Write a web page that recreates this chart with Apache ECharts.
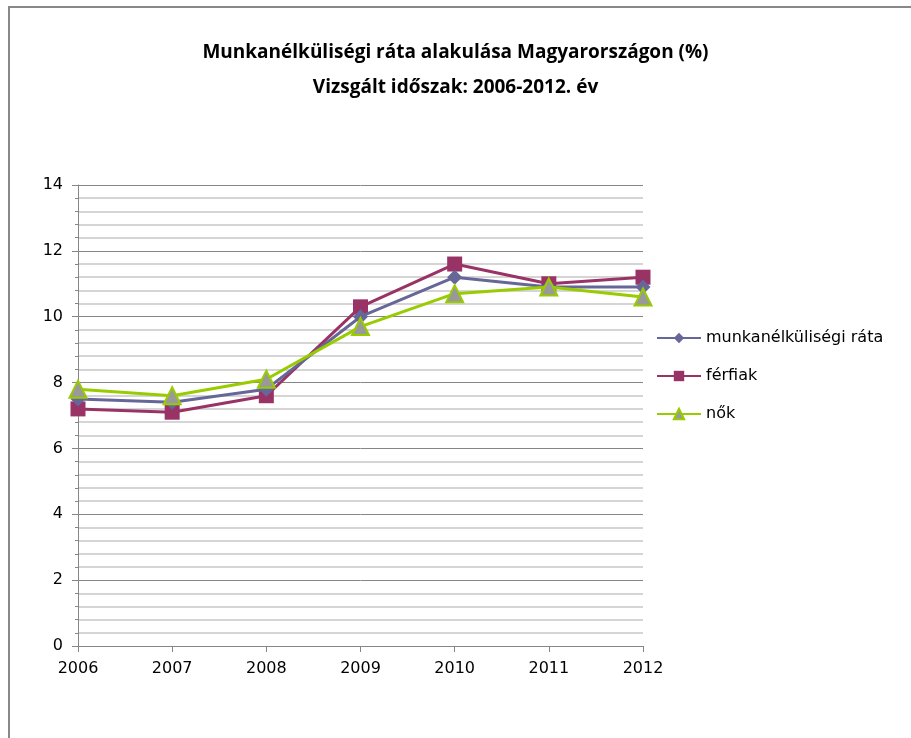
<!DOCTYPE html>
<html><head><meta charset="utf-8">
<script src="https://cdn.jsdelivr.net/npm/echarts@6/dist/echarts.min.js"></script>
<style>html,body{margin:0;padding:0;background:#fff}#c{width:911px;height:738px}</style>
</head><body><div id="c"></div>
<script>
const years = ['2006','2007','2008','2009','2010','2011','2012'];
const rata = [7.5, 7.4, 7.8, 10.0, 11.2, 10.9, 10.9];
const ferfiak = [7.2, 7.1, 7.6, 10.3, 11.6, 11.0, 11.2];
const nok = [7.8, 7.6, 8.1, 9.7, 10.7, 10.9, 10.6];
const names = ['munkanélküliségi ráta', 'férfiak', 'nők'];
const titleLines = ['Munkanélküliségi ráta alakulása Magyarországon (%)', 'Vizsgált időszak: 2006-2012. év'];

const TFONT = '"Open Sans", "Noto Sans", sans-serif';
const FONT = '"DejaVu Sans", "Open Sans", sans-serif';
const chart = echarts.init(document.getElementById('c'));
chart.setOption({
  animation: false,
  backgroundColor: '#fff',
  title: {
    text: titleLines.join('\n'),
    left: 'center', top: 30,
    textStyle: {fontFamily: TFONT, fontWeight: 'bold', fontSize: 19, color: '#000', lineHeight: 35}
  },
  graphic: [{type: 'rect', shape: {x: 9, y: 7, width: 1000, height: 1000},
    style: {fill: 'none', stroke: '#888', lineWidth: 2}, silent: true}],
  grid: {left: 78, top: 185, right: 268, bottom: 92},
  legend: {
    orient: 'vertical', left: 651, top: 325, itemWidth: 44, itemHeight: 13, itemGap: 22,
    textStyle: {fontFamily: FONT, fontSize: 16, color: '#000'},
    data: names
  },
  xAxis: {
    type: 'category', data: years, boundaryGap: false,
    axisLine: {lineStyle: {color: '#868686', width: 1}},
    axisTick: {show: true, length: 6, alignWithLabel: true, lineStyle: {color: '#868686'}},
    axisLabel: {fontFamily: FONT, fontSize: 16, color: '#000', margin: 15},
    splitLine: {show: false}
  },
  yAxis: {
    type: 'value', min: 0, max: 14, interval: 2,
    axisLine: {show: true, lineStyle: {color: '#868686', width: 1}},
    axisTick: {show: true, length: 6, lineStyle: {color: '#868686'}},
    minorTick: {show: true, splitNumber: 5, length: 3, lineStyle: {color: '#868686'}},
    axisLabel: {fontFamily: FONT, fontSize: 16, color: '#000', margin: 15},
    splitLine: {show: true, lineStyle: {color: '#868686', width: 1}},
    minorSplitLine: {show: true, lineStyle: {color: '#c8c8c8', width: 1.5}}
  },
  series: [
    {name: names[0], type: 'line', data: rata, symbol: 'diamond', symbolSize: 15,
      lineStyle: {color: '#666699', width: 3}, itemStyle: {color: '#666699'}, z: 3},
    {name: names[1], type: 'line', data: ferfiak, symbol: 'rect', symbolSize: 15,
      lineStyle: {color: '#993366', width: 3}, itemStyle: {color: '#993366'}, z: 2},
    {name: names[2], type: 'line', data: nok, symbol: 'triangle', symbolSize: 17,
      lineStyle: {color: '#99cc00', width: 3},
      itemStyle: {color: '#999999', borderColor: '#99cc00', borderWidth: 2}, z: 4}
  ]
});
</script></body></html>
